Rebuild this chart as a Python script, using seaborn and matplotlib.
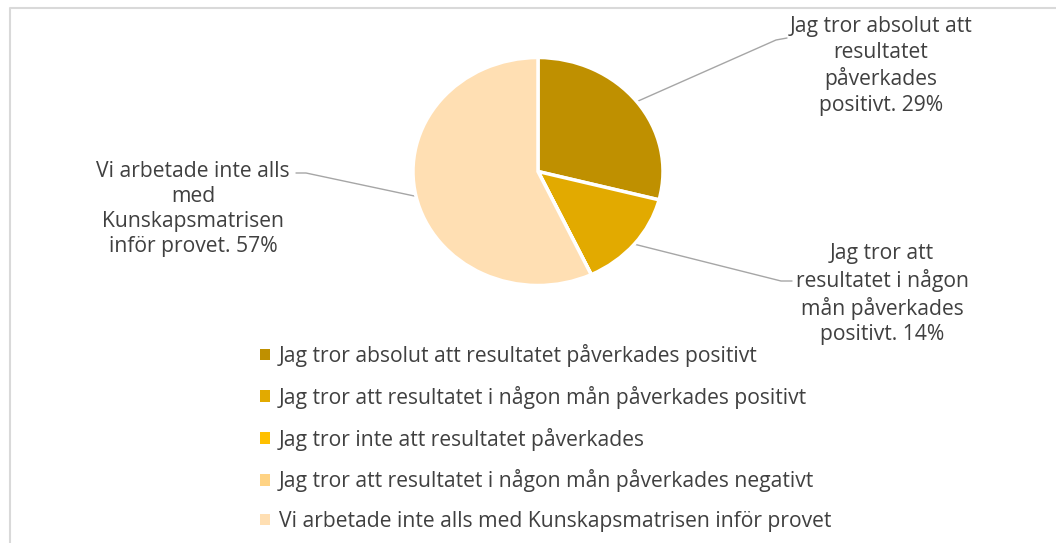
import matplotlib
matplotlib.use("Agg")
import matplotlib.pyplot as plt
from matplotlib.patches import Patch
import numpy as np
import seaborn as sns

# svar i procent
kategorier = [
    "Jag tror absolut att resultatet påverkades positivt",
    "Jag tror att resultatet i någon mån påverkades positivt",
    "Jag tror inte att resultatet påverkades",
    "Jag tror att resultatet i någon mån påverkades negativt",
    "Vi arbetade inte alls med Kunskapsmatrisen inför provet",
]
andel = [29, 14, 0, 0, 57]
etiketter = [
    "Jag tror absolut att\nresultatet\npåverkades\npositivt. 29%",
    "Jag tror att\nresultatet i någon\nmån påverkades\npositivt. 14%",
    None,
    None,
    "Vi arbetade inte alls\nmed\nKunskapsmatrisen\ninför provet. 57%",
]
farger = ["#BF9000", "#E2AA00", "#FFC000", "#FFD384", "#FFDFB3"]

sns.set_theme(style="white")
plt.rcParams["font.family"] = ["Open Sans", "DejaVu Sans"]
textfarg = "#404040"
fs = 15.2

W, H = 1056, 543
fig = plt.figure(figsize=(W / 100, H / 100), dpi=100)

# overlag i pixlar for text och linjer
ax = fig.add_axes([0, 0, 1, 1])
ax.set_xlim(0, W)
ax.set_ylim(0, H)
ax.axis("off")

def p(x, y):
    return (x, H - y)

# cirkeln ar lite utdragen pa bredden i originalet
cx, cy, rx, ry = 538, 171.5, 125, 114
pax = fig.add_axes([(cx - rx) / W, (H - cy - ry) / H, 2 * rx / W, 2 * ry / H])
wedges, _ = pax.pie(
    andel, colors=farger, startangle=90, counterclock=False,
    wedgeprops=dict(edgecolor="white", linewidth=2.5),
)
pax.set_aspect("auto")
pax.set_xlim(-1, 1)
pax.set_ylim(-1, 1)
pax.axis("off")

# etiketter med ledare
etikett_pos = {0: (881, 66), 1: (882, 294), 4: (193, 209)}
ledare_slut = {0: [(776, 40), (787, 38)], 1: [(781, 281), (792, 281)],
               4: [(306, 173), (296, 173)]}
for i, w in enumerate(wedges):
    if etiketter[i] is None:
        continue
    vinkel = np.deg2rad((w.theta1 + w.theta2) / 2)
    sx, sy = p(cx + rx * np.cos(vinkel), cy - ry * np.sin(vinkel))
    pts = [(sx, sy)] + [p(*q) for q in ledare_slut[i]]
    xs, ys = zip(*pts)
    ax.plot(xs, ys, color="#A6A6A6", lw=1, zorder=1)
    tx, ty = p(*etikett_pos[i])
    ax.text(tx, ty, etiketter[i], ha="center", va="center", fontsize=fs,
            color=textfarg, linespacing=1.27)

handtag = [Patch(facecolor=c, edgecolor="none") for c in farger]
leg = ax.legend(
    handtag, kategorier, loc="upper left", bbox_to_anchor=p(260, 344),
    bbox_transform=ax.transData, frameon=False, fontsize=fs,
    handlelength=0.47, handleheight=0.47, handletextpad=0.43,
    labelspacing=0.89, borderpad=0, borderaxespad=0,
)
for t in leg.get_texts():
    t.set_color(textfarg)

# diagramram
ax.plot([10, 10, W + 5], [0, H - 8, H - 8], color="#D9D9D9", lw=1.5,
        clip_on=False)

fig.savefig("out.png", dpi=100)
